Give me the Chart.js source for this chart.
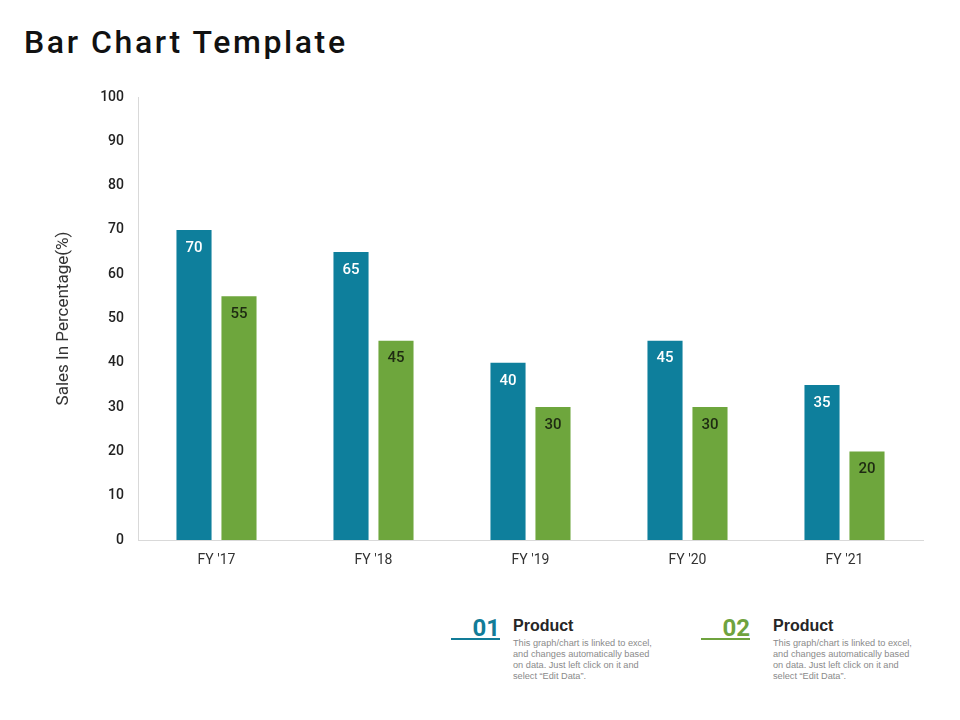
<!DOCTYPE html>
<html>
<head>
<meta charset="utf-8">
<script src="https://cdn.jsdelivr.net/npm/chart.js@4/dist/chart.umd.min.js"></script>
<style>
  body { margin: 0; background: #fff; font-family: Roboto, sans-serif; }
  .page { position: relative; width: 960px; height: 720px; overflow: hidden; }
  h1 { position: absolute; left: 24px; top: 24px; margin: 0; font-size: 32px; line-height: 36px; font-weight: 500; color: #111; letter-spacing: 2.6px; }
  .chart-box { position: absolute; left: 0; top: 0; width: 960px; height: 600px; }
  .item { position: absolute; top: 614px; }
  .num { position: absolute; top: 0; width: 49px; text-align: right; font-size: 24px; font-weight: 700; }
  .bar { position: absolute; top: 24px; left: 0; width: 49px; height: 2px; }
  .name { position: absolute; left: 62px; top: 3px; font-size: 16px; font-weight: 700; color: #262626; font-family: "Liberation Sans", Arial, sans-serif; }
  .desc { position: absolute; left: 62px; top: 24px; width: 144px; font-size: 9.2px; line-height: 11px; color: #8a8a8a; font-family: "Liberation Sans", Arial, sans-serif; }
</style>
</head>
<body>
<div class="page">
  <h1>Bar Chart Template</h1>
  <div class="chart-box"><canvas id="salesChart"></canvas></div>

  <div class="item" style="left:451px;">
    <div class="num" style="color:#127c98; left:0;">01</div>
    <div class="bar" style="background:#127c98;"></div>
    <div class="name">Product</div>
    <div class="desc">This graph/chart is linked to excel, and changes automatically based on data. Just left click on it and select “Edit Data”.</div>
  </div>
  <div class="item" style="left:701px;">
    <div class="num" style="color:#6fa33e; left:0;">02</div>
    <div class="bar" style="background:#6fa33e;"></div>
    <div class="name" style="left:72px;">Product</div>
    <div class="desc" style="left:72px;">This graph/chart is linked to excel, and changes automatically based on data. Just left click on it and select “Edit Data”.</div>
  </div>
</div>

<script>
const years = ["FY '17", "FY '18", "FY '19", "FY '20", "FY '21"];
const product01 = [70, 65, 40, 45, 35];
const product02 = [55, 45, 30, 30, 20];
const yTicks = [0, 10, 20, 30, 40, 50, 60, 70, 80, 90, 100];

const blue = '#0e7f9c';
const green = '#6ea63d';

// values written inside the top of each bar
const barLabels = {
    id: 'barLabels',
    afterDatasetsDraw(chart) {
        const ctx = chart.ctx;
        ctx.save();
        ctx.font = '500 15px Roboto, sans-serif';
        ctx.textAlign = 'center';
        ctx.textBaseline = 'middle';
        chart.data.datasets.forEach((ds, i) => {
            chart.getDatasetMeta(i).data.forEach((bar, j) => {
                ctx.fillStyle = i === 0 ? '#ffffff' : '#1e2a12';
                ctx.fillText(ds.data[j], bar.x, bar.y + 18);
            });
        });
        ctx.restore();
    }
};

new Chart(document.getElementById('salesChart'), {
    type: 'bar',
    data: {
        labels: years,
        datasets: [
            { label: 'Product 01', data: product01, backgroundColor: blue },
            { label: 'Product 02', data: product02, backgroundColor: green }
        ]
    },
    options: {
        responsive: true,
        maintainAspectRatio: false,
        animation: false,
        categoryPercentage: 0.573,
        barPercentage: 0.78,
        layout: { padding: { top: 97, right: 37, bottom: 0, left: 0 } },
        plugins: {
            legend: { display: false },
            tooltip: { enabled: false }
        },
        scales: {
            x: {
                grid: { display: false, drawTicks: false },
                border: { color: '#d9d9d9', width: 1 },
                ticks: { color: '#333', padding: 12, font: { family: 'Liberation Sans Narrow, Roboto, sans-serif', size: 14 } },
                afterFit(scale) { scale.height = 60; }
            },
            y: {
                min: 0,
                max: 100,
                afterBuildTicks(scale) { scale.ticks = yTicks.map(v => ({ value: v })); },
                grid: { display: false, drawTicks: false },
                border: { color: '#d9d9d9', width: 1 },
                ticks: { color: '#222', padding: 14, font: { family: 'Roboto, sans-serif', size: 14, weight: '500' } },
                title: {
                    display: true,
                    text: 'Sales In Percentage(%)',
                    color: '#333',
                    font: { family: 'Roboto, sans-serif', size: 17 },
                    padding: { top: 54, bottom: 0 }
                },
                afterFit(scale) { scale.width = 138; }
            }
        }
    },
    plugins: [barLabels]
});
</script>
</body>
</html>
